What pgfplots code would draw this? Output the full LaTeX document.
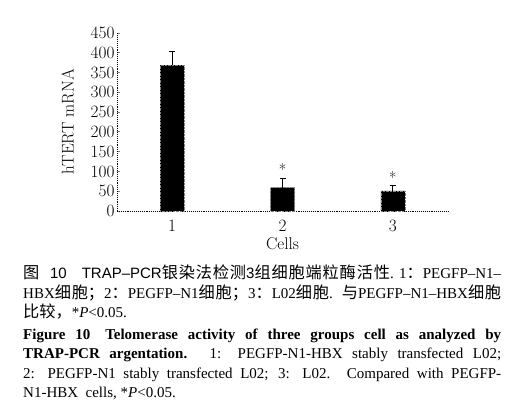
\documentclass[border=0pt]{standalone}
\usepackage{pgfplots}
\pgfplotsset{compat=1.18}
\usepackage{fontspec}
\newfontfamily\cjk[Scale=1.08]{Noto Sans CJK SC}
\newfontfamily\tnr{Liberation Serif}
\newfontfamily\ars{Liberation Sans}
\XeTeXlinebreaklocale "zh"
\XeTeXlinebreakskip=0pt plus 1pt
\begin{document}
\begin{tikzpicture}
\useasboundingbox (0pt,0pt) rectangle (524pt,-411pt);
\begin{axis}[
  at={(117pt,-211pt)}, anchor=south west,
  scale only axis, width=331pt, height=178pt,
  xmin=0.5, xmax=3.5, ymin=0, ymax=450,
  axis x line=bottom, axis y line=left,
  axis line style={-, densely dotted, line width=0.9pt},
  xtick={1,2,3}, ytick={0,50,...,450},
  major tick length=3pt,
  x tick style={draw=none},
  y tick style={line width=0.8pt},
  tick align=inside,
  extra x ticks={1.5,2.5,3.5}, extra x tick labels={},
  extra x tick style={tick style={draw=black, line width=0.6pt}, major tick length=4pt},
  ticklabel style={font=\fontsize{17}{17}\selectfont},
  yticklabel style={xshift=1pt},
  xticklabel style={yshift=-6pt},
  xlabel={Cells}, ylabel={hTERT mRNA},
  label style={font=\fontsize{17}{17}\selectfont},
  xlabel style={yshift=1pt},
  ylabel style={yshift=10pt},
  clip=false,
]
\addplot[ybar, bar width=24pt, fill=black, draw=gray, densely dotted,
  error bars/.cd, y dir=plus, y explicit,
  error bar style={solid, black, line width=0.8pt},
  error mark options={rotate=90, mark size=3pt, solid, black}]
  coordinates {(1,369) +- (0,36) (2,59) +- (0,25) (3,51) +- (0,13)};
\node[font=\fontsize{16}{16}\selectfont] at (axis cs:2,104) {*};
\node[font=\fontsize{16}{16}\selectfont] at (axis cs:3,85) {*};
\end{axis}
\node[anchor=north west, inner sep=0pt, text width=478pt, align=justify,
  font=\fontsize{15}{19.5}\tnr] at (23pt,-265pt) {%
{\cjk 图}\ \ {\ars 10}\quad{\ars TRAP–PCR}{\cjk 银染法检测}{\ars 3}{\cjk 组细胞端粒酶活性}.\ 1{\cjk ：}PEGFP–N1–\linebreak
HBX{\cjk 细胞；}2{\cjk ：}PEGFP–N1{\cjk 细胞；}3{\cjk ：}L02{\cjk 细胞}. {\cjk 与}PEGFP–N1–HBX{\cjk 细胞}\linebreak
{\cjk 比较，}*\textit{P}<0.05.\par\vspace{2pt}
\baselineskip=18.8pt
\textbf{Figure 10\quad Telomerase activity of three groups cell as analyzed by TRAP-PCR argentation.} 1: PEGFP-N1-HBX stably transfected L02;\linebreak
2: PEGFP-N1 stably transfected L02; 3: L02. Compared with PEGFP-\linebreak
N1-HBX\ \ cells, *\textit{P}<0.05.};
\end{tikzpicture}
\end{document}
